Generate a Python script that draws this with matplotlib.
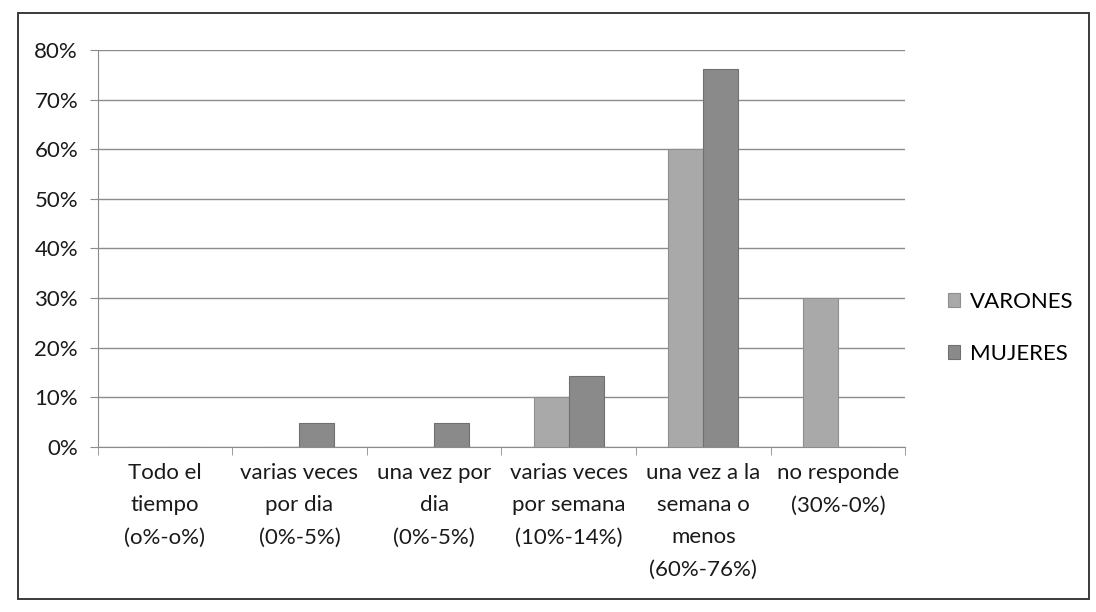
import matplotlib
matplotlib.use("Agg")
import matplotlib.pyplot as plt
from matplotlib.patches import Rectangle
import numpy as np

categories = [
    "Todo el\ntiempo\n(o%-o%)",
    "varias veces\npor dia\n(0%-5%)",
    "una vez por\ndia\n(0%-5%)",
    "varias veces\npor semana\n(10%-14%)",
    "una vez a la\nsemana o\nmenos\n(60%-76%)",
    "no responde\n(30%-0%)",
]
varones = [0.0, 0.0, 0.0, 10.0, 60.0, 30.0]
mujeres = [0.0, 4.76, 4.76, 14.29, 76.19, 0.0]
series_names = ["VARONES", "MUJERES"]
yticks = [0, 10, 20, 30, 40, 50, 60, 70, 80]

plt.rcParams['font.family'] = ['Lato', 'DejaVu Sans']

fig = plt.figure(figsize=(10.96, 6.12), dpi=100)
ax = fig.add_axes([0.089, 0.27, 0.737, 0.648])

x = np.arange(len(categories))
w = 0.26
c_v = '#a9a9a9'
c_m = '#8a8a8a'
ax.bar(x - w / 2, varones, w, color=c_v, edgecolor='#8f8f8f', linewidth=0.8, label=series_names[0], zorder=3)
ax.bar(x + w / 2, mujeres, w, color=c_m, edgecolor='#707070', linewidth=0.8, label=series_names[1], zorder=3)

fs = 16
ax.set_xlim(-0.5, len(categories) - 0.5)
ax.set_ylim(0, 80)
ax.set_yticks(yticks)
ax.set_yticklabels([f"{t}%" for t in yticks], fontsize=fs, color='#1a1a1a')
ax.yaxis.grid(True, color='#8c8c8c', linewidth=1.0, zorder=0)
ax.set_axisbelow(True)

ax.set_xticks(x)
ax.set_xticklabels(categories, fontsize=fs, color='#1a1a1a', linespacing=1.75, va='top')
ax.tick_params(axis='x', length=0, pad=12)
ax.set_xticks(np.arange(-0.5, len(categories), 1.0), minor=True)
ax.tick_params(axis='x', which='minor', length=6, color='#8c8c8c', direction='out')
ax.tick_params(axis='y', length=6, color='#8c8c8c', direction='out', pad=8)

for s in ['top', 'right']:
    ax.spines[s].set_visible(False)
ax.spines['left'].set_color('#8c8c8c')
ax.spines['bottom'].set_color('#8c8c8c')

leg = ax.legend(loc='center left', bbox_to_anchor=(1.028, 0.30), frameon=False,
                fontsize=fs, handlelength=0.55, handleheight=0.55, handletextpad=0.45,
                labelspacing=1.45)

fig.patches.append(Rectangle((0.016, 0.022), 0.978, 0.956, transform=fig.transFigure,
                             fill=False, edgecolor='#3a3a3a', linewidth=1.4))

fig.savefig("out.png", dpi=100, facecolor='white')
